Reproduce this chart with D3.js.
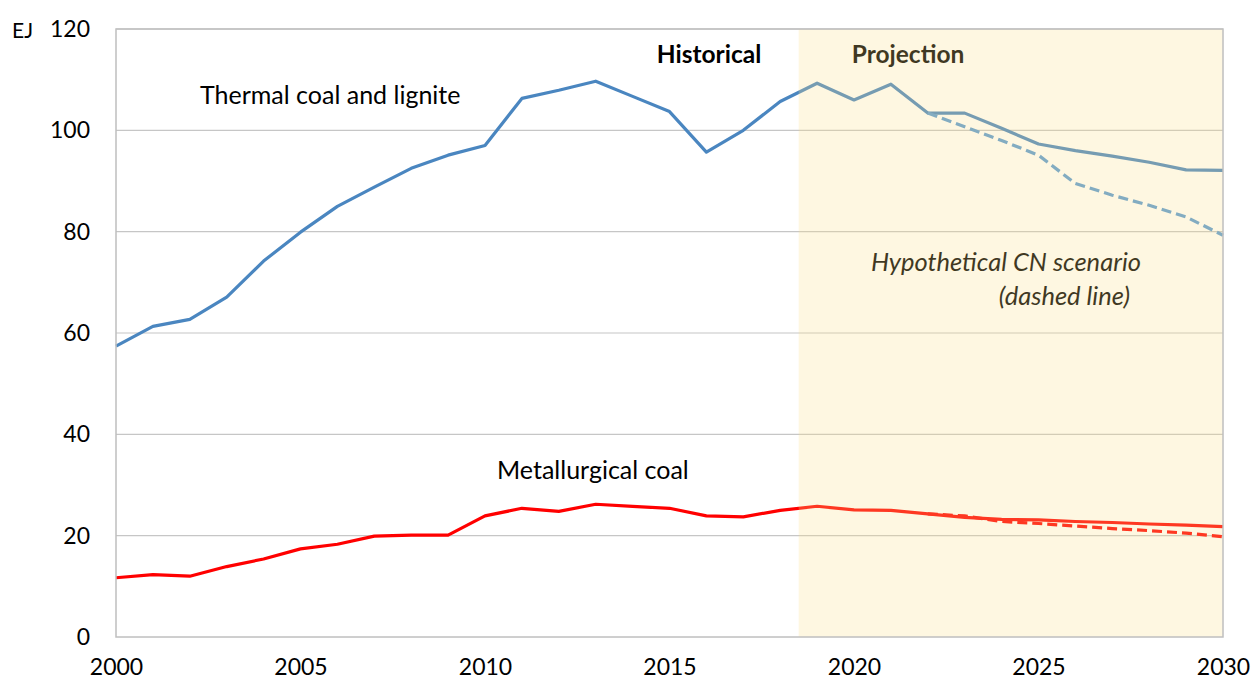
<!DOCTYPE html>
<html>
<head>
<meta charset="utf-8">
<script src="https://cdn.jsdelivr.net/npm/d3@7"></script>
<style>
  body { margin: 0; background: #fff; }
  svg text { font-family: Lato, "Open Sans", sans-serif; fill: #000; }
</style>
</head>
<body>
<div id="chart"></div>
<script>
// data (EJ)
const years = [2000, 2001, 2002, 2003, 2004, 2005, 2006, 2007, 2008, 2009,
               2010, 2011, 2012, 2013, 2014, 2015, 2016, 2017, 2018, 2019,
               2020, 2021, 2022, 2023, 2024, 2025, 2026, 2027, 2028, 2029, 2030];
const thermal = [57.4, 61.3, 62.7, 67.1, 74.2, 79.9, 85.0, 88.8, 92.5, 95.1,
                 97.0, 106.3, 107.9, 109.7, 106.7, 103.7, 95.7, 100.0, 105.7, 109.3,
                 106.0, 109.1, 103.4, 103.4, 100.4, 97.3, 96.0, 94.9, 93.7, 92.2, 92.1];
const metallurgical = [11.7, 12.3, 12.0, 13.9, 15.4, 17.4, 18.3, 19.9, 20.1, 20.1,
                       23.9, 25.4, 24.8, 26.2, 25.8, 25.4, 23.9, 23.7, 25.0, 25.8,
                       25.1, 25.0, 24.3, 23.6, 23.2, 23.1, 22.8, 22.6, 22.3, 22.1, 21.8];
const cnYears = [2022, 2023, 2024, 2025, 2026, 2027, 2028, 2029, 2030];
const thermalCN = [103.4, 100.7, 98.0, 95.1, 89.5, 87.2, 85.2, 82.9, 79.3];
const metallurgicalCN = [24.3, 23.9, 22.8, 22.4, 21.9, 21.4, 21.0, 20.5, 19.8];
const yTicks = [0, 20, 40, 60, 80, 100, 120];
const xTicks = [2000, 2005, 2010, 2015, 2020, 2025, 2030];
const projectionStart = 2018.5;

const margin = { top: 29, right: 29, bottom: 45, left: 116 },
      width = 1252 - margin.left - margin.right,
      height = 682 - margin.top - margin.bottom;

const svg = d3.select("#chart")
  .append("svg")
  .attr("width", 1252)
  .attr("height", 682)
  .append("g")
  .attr("transform", `translate(${margin.left},${margin.top})`);

const x = d3.scaleLinear().domain([2000, 2030]).range([0, width]);
const y = d3.scaleLinear().domain([0, 120]).range([height, 0]);

// gridlines
svg.append("g")
  .selectAll("line")
  .data(yTicks.filter(d => d > 0))
  .join("line")
  .attr("x1", 0).attr("x2", width)
  .attr("y1", d => y(d)).attr("y2", d => y(d))
  .attr("stroke", "#c6c6c6")
  .attr("stroke-width", 1.2);

// y axis labels
const yAxis = svg.append("g")
  .call(d3.axisLeft(y).tickValues(yTicks).tickSize(0).tickPadding(26));
yAxis.select(".domain").remove();
yAxis.selectAll("text").style("font-size", "23px");

svg.append("text")
  .attr("x", -104)
  .attr("y", 9)
  .style("font-size", "21px")
  .text("EJ");

// x axis labels
const xAxis = svg.append("g")
  .attr("transform", `translate(0,${height})`)
  .call(d3.axisBottom(x).tickValues(xTicks).tickFormat(d3.format("d")).tickSize(0).tickPadding(22));
xAxis.select(".domain").remove();
xAxis.selectAll("text").style("font-size", "23px");

const line = d3.line()
  .x(d => x(d[0]))
  .y(d => y(d[1]));

svg.append("path")
  .datum(years.map((yr, i) => [yr, thermal[i]]))
  .attr("fill", "none")
  .attr("stroke", "#4a86c0")
  .attr("stroke-width", 3.2)
  .attr("stroke-linejoin", "round")
  .attr("d", line);

svg.append("path")
  .datum(cnYears.map((yr, i) => [yr, thermalCN[i]]))
  .attr("fill", "none")
  .attr("stroke", "#5b9bd5")
  .attr("stroke-width", 3.2)
  .attr("stroke-dasharray", "10,5")
  .attr("d", line);

svg.append("path")
  .datum(years.map((yr, i) => [yr, metallurgical[i]]))
  .attr("fill", "none")
  .attr("stroke", "#ff0000")
  .attr("stroke-width", 3.2)
  .attr("stroke-linejoin", "round")
  .attr("d", line);

svg.append("path")
  .datum(cnYears.map((yr, i) => [yr, metallurgicalCN[i]]))
  .attr("fill", "none")
  .attr("stroke", "#ff0000")
  .attr("stroke-width", 3.2)
  .attr("stroke-dasharray", "10,5")
  .attr("d", line);

// labels
svg.append("text")
  .attr("x", 84).attr("y", 75)
  .style("font-size", "25px")
  .text("Thermal coal and lignite");

svg.append("text")
  .attr("x", 381).attr("y", 450)
  .style("font-size", "25px")
  .text("Metallurgical coal");

svg.append("text")
  .attr("x", 593).attr("y", 34)
  .attr("text-anchor", "middle")
  .style("font-size", "24.5px")
  .style("font-weight", "bold")
  .text("Historical");

svg.append("text")
  .attr("x", 792).attr("y", 34)
  .attr("text-anchor", "middle")
  .style("font-size", "24.5px")
  .style("font-weight", "bold")
  .text("Projection");

svg.append("text")
  .attr("x", 1025).attr("y", 242)
  .attr("text-anchor", "end")
  .style("font-size", "25.5px")
  .style("font-style", "italic")
  .text("Hypothetical CN scenario");

svg.append("text")
  .attr("x", 1014).attr("y", 276)
  .attr("text-anchor", "end")
  .style("font-size", "25.5px")
  .style("font-style", "italic")
  .text("(dashed line)");

// projection shading laid over everything, like the original
svg.append("rect")
  .attr("x", x(projectionStart))
  .attr("y", 0)
  .attr("width", x(2030) - x(projectionStart))
  .attr("height", height)
  .attr("fill", "rgb(251,224,137)")
  .attr("fill-opacity", 0.25);

// plot border
svg.append("rect")
  .attr("x", 0).attr("y", 0)
  .attr("width", width).attr("height", height)
  .attr("fill", "none")
  .attr("stroke", "#bfbfbf")
  .attr("stroke-width", 1.5);
</script>
</body>
</html>
